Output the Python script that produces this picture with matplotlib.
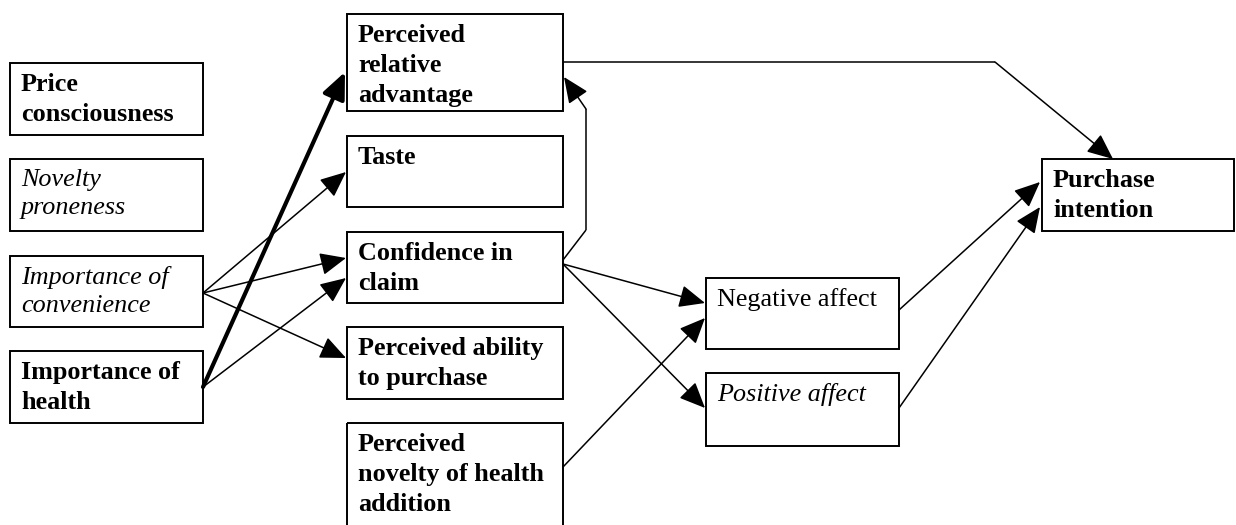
import matplotlib
matplotlib.use("Agg")
import matplotlib.pyplot as plt
from matplotlib.patches import Rectangle, FancyArrowPatch, ArrowStyle

# box labels and font styles
labels = ["Price\nconsciousness", "Novelty\nproneness", "Importance of\nconvenience",
          "Importance of\nhealth", "Perceived\nrelative\nadvantage", "Taste",
          "Confidence in\nclaim", "Perceived ability\nto purchase",
          "Perceived\nnovelty of health\naddition", "Negative affect",
          "Positive affect", "Purchase\nintention"]
weights = ["bold", "normal", "normal", "bold", "bold", "bold",
           "bold", "bold", "bold", "normal", "normal", "bold"]
slants = ["normal", "italic", "italic", "normal", "normal", "normal",
          "normal", "normal", "normal", "normal", "italic", "normal"]

# layout (pixel coords, y down): x0, y0, x1, y1
boxes = [(10, 63, 203, 135), (10, 159, 203, 231), (10, 256, 203, 327),
         (10, 351, 203, 423), (347, 14, 563, 111), (347, 136, 563, 207),
         (347, 232, 563, 303), (347, 327, 563, 399), (347, 423, 563, 535),
         (706, 278, 899, 349), (706, 373, 899, 446), (1042, 159, 1234, 231)]

# arrows as polylines, last segment carries the head
paths = [
    ([(203, 387), (345, 72)], 3.0),
    ([(203, 293), (346, 172)], 1.1),
    ([(203, 293), (346, 258)], 1.1),
    ([(203, 293), (346, 358)], 1.1),
    ([(203, 387), (346, 278)], 1.1),
    ([(563, 260), (586, 230), (586, 109), (564, 77)], 1.1),
    ([(563, 264), (705, 303)], 1.1),
    ([(563, 264), (705, 408)], 1.1),
    ([(563, 467), (705, 318)], 1.1),
    ([(563, 62), (995, 62), (1113, 159)], 1.1),
    ([(899, 310), (1040, 182)], 1.1),
    ([(899, 408), (1040, 207)], 1.1),
]

fig = plt.figure(figsize=(12.36, 5.25), dpi=100)
ax = fig.add_axes([0, 0, 1, 1])
ax.set_xlim(0, 1236)
ax.set_ylim(525, 0)
ax.axis("off")

for lab, w, s, (x0, y0, x1, y1) in zip(labels, weights, slants, boxes):
    r = Rectangle((x0, y0), x1 - x0, y1 - y0, fill=False, ec="black", lw=1.4)
    ax.add_patch(r)
    t = ax.text(x0 + 11, y0 + 10, lab, ha="left", va="top",
                family="Liberation Serif", fontsize=18.8, fontweight=w,
                fontstyle=s, linespacing=1.38)
    t.set_clip_path(r)

head = ArrowStyle("-|>", head_length=16, head_width=7)
for pts, lw in paths:
    for a, b in zip(pts[:-2], pts[1:-1]):
        ax.plot([a[0], b[0]], [a[1], b[1]], color="black", lw=lw,
                solid_capstyle="butt")
    arr = FancyArrowPatch(pts[-2], pts[-1], arrowstyle=head, mutation_scale=1,
                          shrinkA=0, shrinkB=0, color="black", lw=lw)
    ax.add_patch(arr)

fig.savefig("out.png", dpi=100)
